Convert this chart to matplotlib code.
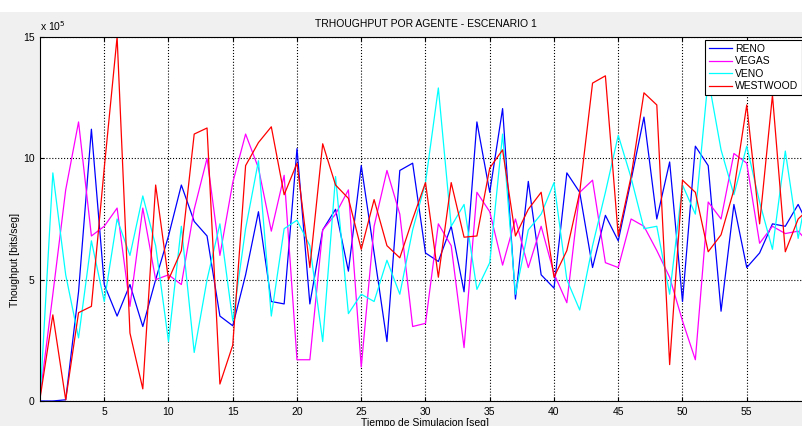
import numpy as np
import matplotlib
matplotlib.use("Agg")
import matplotlib.pyplot as plt
from matplotlib.patches import Rectangle

plt.rcParams['font.family'] = ['Liberation Sans', 'DejaVu Sans']

# tiempo de simulacion (seg)
tiempo = np.arange(0, 61)

# throughput por agente (x 1e5 bits/seg)
reno = [0.0, 0.0, 0.05, 4.5, 11.2, 4.8, 3.5, 4.8, 3.07, 5.0,
        6.8, 8.9, 7.4, 6.8, 3.5, 3.1, 5.2, 7.8, 4.1, 4.0,
        10.4, 4.0, 7.05, 7.9, 5.35, 9.7, 6.1, 2.45, 9.5, 9.8,
        6.1, 5.75, 7.2, 4.5, 11.5, 8.6, 12.05, 4.2, 9.05, 5.2,
        4.65, 9.4, 8.6, 5.5, 7.65, 6.6, 9.1, 11.7, 7.5, 9.85,
        4.1, 10.5, 9.7, 3.7, 8.1, 5.5, 6.1, 7.3, 7.2, 8.1, 7.0]
vegas = [0.2, 4.4, 8.7, 11.5, 6.8, 7.2, 7.95, 3.9, 7.95, 5.0,
         5.2, 4.8, 7.9, 10.0, 6.0, 9.0, 11.0, 9.6, 7.0, 9.3,
         1.7, 1.7, 7.05, 7.7, 8.7, 1.4, 7.2, 9.5, 7.7, 3.07,
         3.2, 7.3, 6.4, 2.2, 8.6, 7.8, 5.6, 7.5, 5.5, 7.2,
         5.25, 4.05, 8.6, 9.1, 5.7, 5.5, 7.5, 7.2, 6.2, 5.1,
         3.3, 1.7, 8.2, 7.5, 10.2, 9.8, 6.5, 7.2, 6.9, 7.0, 6.4]
veno = [0.0, 9.4, 5.2, 2.6, 6.6, 4.1, 7.5, 6.0, 8.45, 6.4,
        2.45, 7.2, 2.0, 5.0, 7.3, 3.3, 7.1, 9.9, 3.5, 7.1,
        7.45, 6.4, 2.45, 9.25, 3.6, 4.4, 4.1, 5.8, 4.4, 7.05,
        9.0, 12.9, 7.2, 8.1, 4.6, 5.7, 11.0, 4.4, 7.05, 7.7,
        9.0, 5.0, 3.75, 6.4, 8.6, 10.95, 9.2, 7.1, 7.2, 4.4,
        8.9, 7.7, 13.3, 10.35, 8.5, 10.5, 8.2, 6.25, 10.3, 6.7, 9.4]
westwood = [0.1, 3.55, 0.05, 3.64, 3.9, 9.6, 15.0, 2.8, 0.5, 8.9,
            5.0, 6.2, 11.0, 11.25, 0.7, 2.3, 9.7, 10.65, 11.3, 8.5,
            9.8, 5.5, 10.6, 8.9, 8.35, 6.25, 8.3, 6.4, 5.9, 7.5,
            9.0, 5.1, 9.0, 6.75, 6.8, 9.6, 10.35, 6.8, 7.9, 8.6,
            5.1, 6.2, 8.6, 13.1, 13.4, 6.8, 9.25, 12.7, 12.2, 1.5,
            9.1, 8.6, 6.15, 6.85, 8.7, 12.2, 7.3, 12.6, 6.15, 7.5, 8.0]

series = [("RENO", reno, (0, 0, 1)),
          ("VEGAS", vegas, (1, 0, 1)),
          ("VENO", veno, (0, 1, 1)),
          ("WESTWOOD", westwood, (1, 0, 0))]

W, H = 803, 426
fig = plt.figure(figsize=(W / 100, H / 100), dpi=100)
fig.patch.set_facecolor('#f0f0f0')
# franja blanca superior
fig.patches.append(Rectangle((0, (H - 12) / H), 1, 12 / H, transform=fig.transFigure,
                             facecolor='white', edgecolor='none', zorder=0))

ax = fig.add_axes([40 / W, 25 / H, 771 / W, 364 / H])
ax.set_facecolor('white')

for nombre, vals, col in series:
    ax.plot(tiempo, np.array(vals) * 1e5, color=col, lw=0.9, label=nombre)

ax.set_xlim(0, 60)
ax.set_ylim(0, 15e5)
ax.set_xticks(np.arange(5, 60, 5))
ax.set_yticks([0, 5e5, 10e5, 15e5])
ax.set_yticklabels(['0', '5', '10', '15'])
ax.grid(True, color='black', linestyle=':', linewidth=0.8)
ax.tick_params(direction='in', top=True, right=True, labelsize=7.5, length=3, pad=4)
for s in ax.spines.values():
    s.set_linewidth(0.8)

ax.text(0.0, 1.012, r'x 10$^5$', transform=ax.transAxes, fontsize=7.5, va='bottom', ha='left')
ax.set_title("TRHOUGHPUT POR AGENTE - ESCENARIO 1", fontsize=7.5, pad=7)
ax.set_xlabel("Tiempo de Simulacion [seg]", fontsize=7.5, labelpad=1)
ax.set_ylabel("Thoughput [bits/seg]", fontsize=7.5)
ax.yaxis.set_label_coords(-0.026, 0.387)

leg = ax.legend(loc='upper right', bbox_to_anchor=(802 / W, (H - 40) / H),
                bbox_transform=fig.transFigure, borderaxespad=0, fontsize=7.5,
                fancybox=False, framealpha=1, edgecolor='black',
                handlelength=2.2, labelspacing=0.25, borderpad=0.35, handletextpad=0.3)
leg.get_frame().set_linewidth(0.8)

fig.savefig("out.png", dpi=100, facecolor=fig.get_facecolor())
